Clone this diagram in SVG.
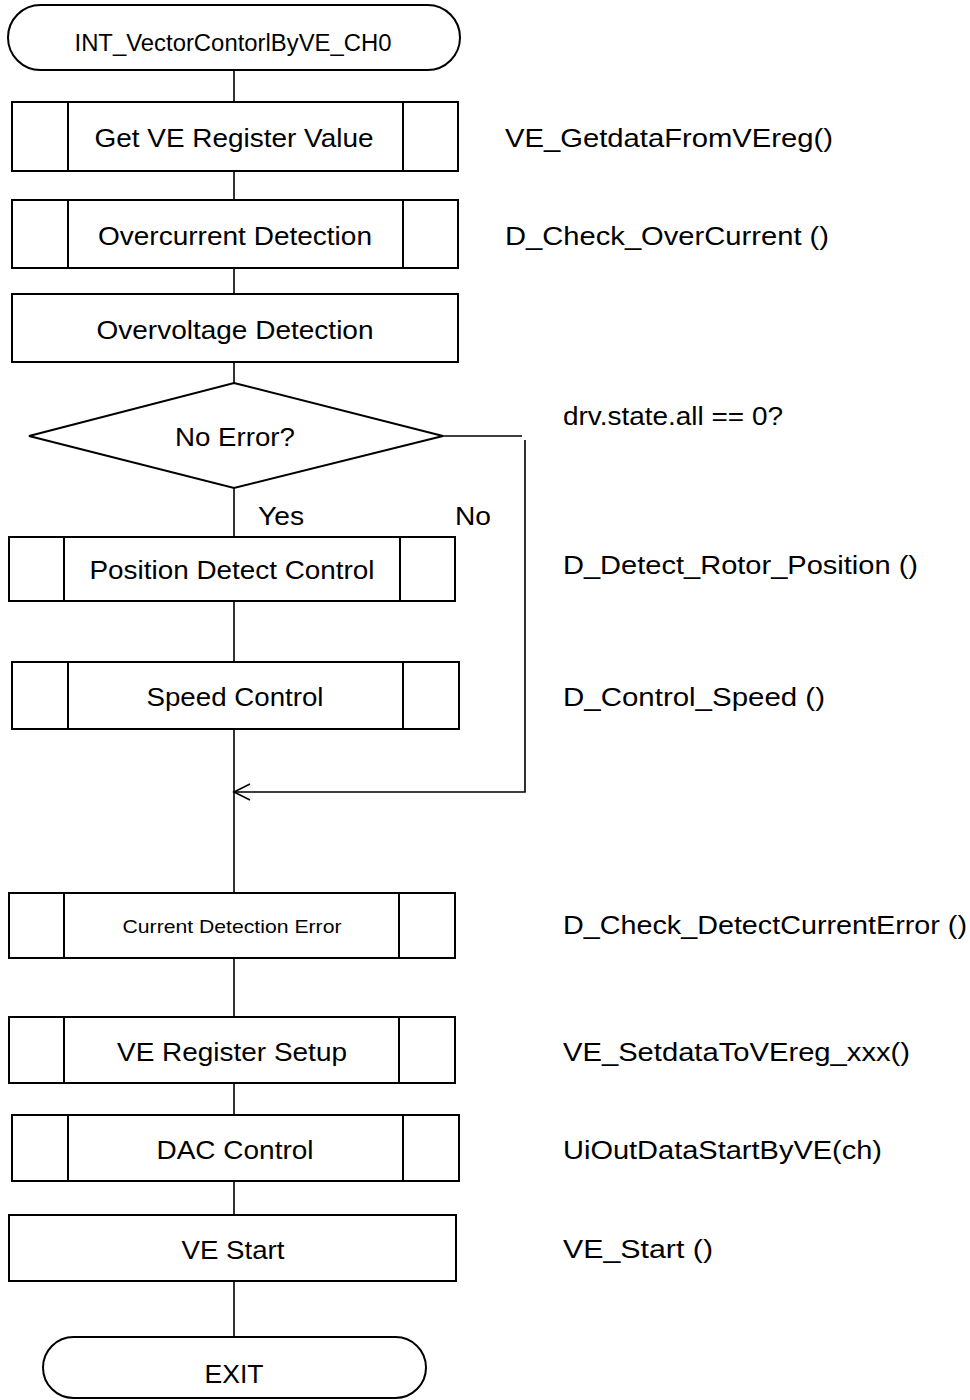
<svg xmlns="http://www.w3.org/2000/svg" width="970" height="1400" viewBox="0 0 970 1400">
<style>
.shape{fill:#fff;stroke:#000;stroke-width:2}
.div{stroke:#000;stroke-width:2;fill:none}
.conn{stroke:#000;stroke-width:1.6;fill:none}
text{font-family:"Liberation Sans",Arial,sans-serif;fill:#000}
.t{font-size:26.5px;text-anchor:middle}
.s{font-size:26.5px}
</style>
<rect width="970" height="1400" fill="#fff"/>
<g id="connectors">
<path class="conn" d="M234 70V102M234 171V200M234 268V294M234 362V383M234 487V537M234 601V662M234 729V893M234 958V1017M234 1083V1115M234 1181V1215M234 1281V1337"/>
<path class="conn" d="M443 436H522M525 440V792H234"/>
<polyline class="conn" points="250,784 234,792 250,800"/>
<text x="258" y="525" class="s" textLength="46" lengthAdjust="spacingAndGlyphs">Yes</text>
<text x="455" y="525" class="s" textLength="36" lengthAdjust="spacingAndGlyphs">No</text>
</g>
<g id="start">
<rect class="shape" x="8" y="5" width="452" height="65" rx="32.5"/>
<text x="233" y="51" font-size="23" text-anchor="middle" textLength="317" lengthAdjust="spacingAndGlyphs">INT_VectorContorlByVE_CH0</text>
</g>
<g id="getVE">
<rect class="shape" x="12" y="102" width="446" height="69"/>
<path class="div" d="M68 102V171M403 102V171"/>
<text x="234" y="147" class="t" textLength="279" lengthAdjust="spacingAndGlyphs">Get VE Register Value</text>
<text x="505" y="147" class="s" textLength="328" lengthAdjust="spacingAndGlyphs">VE_GetdataFromVEreg()</text>
</g>
<g id="overcurrent">
<rect class="shape" x="12" y="200" width="446" height="68"/>
<path class="div" d="M68 200V268M403 200V268"/>
<text x="235" y="245" class="t" textLength="274" lengthAdjust="spacingAndGlyphs">Overcurrent Detection</text>
<text x="505" y="245" class="s" textLength="324" lengthAdjust="spacingAndGlyphs">D_Check_OverCurrent ()</text>
</g>
<g id="overvoltage">
<rect class="shape" x="12" y="294" width="446" height="68"/>
<text x="235" y="339" class="t" textLength="277" lengthAdjust="spacingAndGlyphs">Overvoltage Detection</text>
</g>
<g id="noerror">
<polygon class="shape" points="234,383 443,436 234,488 29,436"/>
<text x="235" y="446" class="t" textLength="120" lengthAdjust="spacingAndGlyphs">No Error?</text>
<text x="563" y="425" class="s" textLength="220" lengthAdjust="spacingAndGlyphs">drv.state.all == 0?</text>
</g>
<g id="position">
<rect class="shape" x="9" y="537" width="446" height="64"/>
<path class="div" d="M64 537V601M400 537V601"/>
<text x="232" y="579" class="t" textLength="285" lengthAdjust="spacingAndGlyphs">Position Detect Control</text>
<text x="563" y="574" class="s" textLength="355" lengthAdjust="spacingAndGlyphs">D_Detect_Rotor_Position ()</text>
</g>
<g id="speed">
<rect class="shape" x="12" y="662" width="447" height="67"/>
<path class="div" d="M68 662V729M403 662V729"/>
<text x="235" y="706" class="t" textLength="177" lengthAdjust="spacingAndGlyphs">Speed Control</text>
<text x="563" y="706" class="s" textLength="262" lengthAdjust="spacingAndGlyphs">D_Control_Speed ()</text>
</g>
<g id="currentError">
<rect class="shape" x="9" y="893" width="446" height="65"/>
<path class="div" d="M64 893V958M399 893V958"/>
<text x="232" y="933" font-size="19" text-anchor="middle" textLength="219" lengthAdjust="spacingAndGlyphs">Current Detection Error</text>
<text x="563" y="934" class="s" textLength="404" lengthAdjust="spacingAndGlyphs">D_Check_DetectCurrentError ()</text>
</g>
<g id="veSetup">
<rect class="shape" x="9" y="1017" width="446" height="66"/>
<path class="div" d="M64 1017V1083M399 1017V1083"/>
<text x="232" y="1061" class="t" textLength="230" lengthAdjust="spacingAndGlyphs">VE Register Setup</text>
<text x="563" y="1061" class="s" textLength="347" lengthAdjust="spacingAndGlyphs">VE_SetdataToVEreg_xxx()</text>
</g>
<g id="dac">
<rect class="shape" x="12" y="1115" width="447" height="66"/>
<path class="div" d="M68 1115V1181M403 1115V1181"/>
<text x="235" y="1159" class="t" textLength="157" lengthAdjust="spacingAndGlyphs">DAC Control</text>
<text x="563" y="1159" class="s" textLength="319" lengthAdjust="spacingAndGlyphs">UiOutDataStartByVE(ch)</text>
</g>
<g id="veStart">
<rect class="shape" x="9" y="1215" width="447" height="66"/>
<text x="233" y="1259" class="t" textLength="103" lengthAdjust="spacingAndGlyphs">VE Start</text>
<text x="563" y="1258" class="s" textLength="150" lengthAdjust="spacingAndGlyphs">VE_Start ()</text>
</g>
<g id="exit">
<rect class="shape" x="43" y="1337" width="383" height="61" rx="30.5"/>
<text x="234" y="1383" class="t" textLength="59" lengthAdjust="spacingAndGlyphs">EXIT</text>
</g>
</svg>
